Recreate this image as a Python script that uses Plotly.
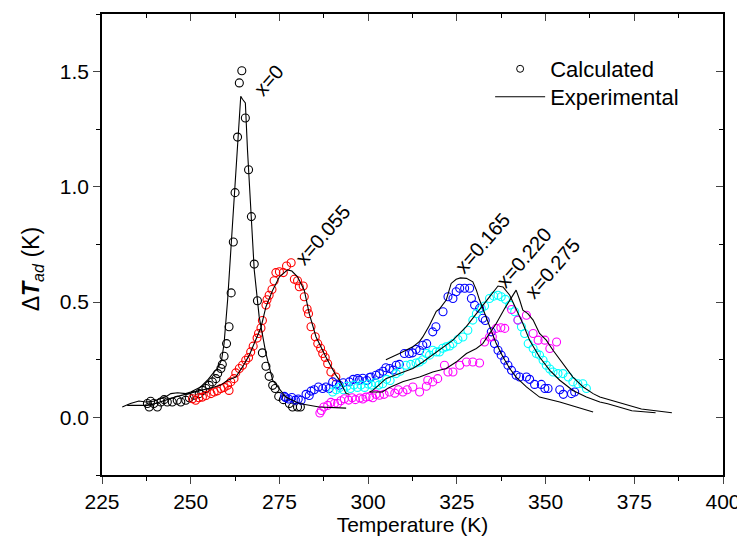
import plotly.graph_objects as go

# ---------------- data ----------------
cal0_T = [237.8, 238.3, 238.7, 239.6, 240.6, 241.6, 242.5, 243.4, 244.8, 246.2, 247.2, 248.6, 249.6,
          251.0, 252.4, 253.3, 254.3, 255.2, 256.1, 257.1, 257.6, 258.5, 258.9, 259.4, 260.1, 260.8,
          261.4, 262.0, 262.5, 263.2, 263.7, 264.4, 265.4, 266.3, 267.1, 267.9, 268.8, 270.2, 271.2,
          272.1, 273.1, 273.8, 274.8, 276.1, 277.8, 278.7, 280.1, 280.9]
cal0_v = [0.060, 0.045, 0.070, 0.060, 0.045, 0.067, 0.077, 0.067, 0.067, 0.074, 0.067, 0.074, 0.085,
          0.096, 0.103, 0.117, 0.125, 0.139, 0.154, 0.168, 0.190, 0.212, 0.230, 0.265, 0.320, 0.393,
          0.540, 0.761, 0.975, 1.216, 1.451, 1.504, 1.299, 1.074, 0.871, 0.665, 0.506, 0.280, 0.222,
          0.178, 0.139, 0.125, 0.091, 0.077, 0.060, 0.045, 0.045, 0.045]

cal055_T = [250.5, 251.4, 252.3, 253.3, 254.3, 255.7, 256.6, 257.5, 258.5, 259.4, 260.4, 260.8, 261.3,
            262.2, 262.7, 263.7, 264.6, 265.5, 266.3, 266.9, 267.6, 268.7, 269.1, 269.8, 270.2, 271.2,
            271.5, 272.1, 272.9, 273.5, 274.0, 275.0, 276.1, 277.0, 278.3, 279.2, 280.1, 280.6, 281.7,
            282.0, 282.8, 283.2, 283.9, 285.1, 285.8, 286.6, 287.2, 287.9, 288.6, 289.5, 290.9]
cal055_v = [0.081, 0.074, 0.085, 0.088, 0.095, 0.103, 0.110, 0.115, 0.125, 0.130, 0.139, 0.117, 0.154,
            0.168, 0.193, 0.212, 0.226, 0.248, 0.260, 0.284, 0.309, 0.344, 0.364, 0.388, 0.420, 0.487,
            0.510, 0.530, 0.555, 0.593, 0.628, 0.632, 0.628, 0.657, 0.671, 0.599, 0.593, 0.567, 0.570,
            0.523, 0.470, 0.450, 0.393, 0.350, 0.320, 0.300, 0.277, 0.260, 0.233, 0.197, 0.175]

cal165_T = [276.4, 276.8, 277.6, 278.5, 279.5, 280.3, 281.1, 282.5, 283.4, 283.9, 284.8, 286.0, 287.2,
            288.1, 289.0, 290.0, 291.0, 291.9, 293.0, 294.7, 295.8, 297.0, 297.5, 298.5, 299.6, 300.4,
            300.8, 302.2, 303.2, 304.2, 305.0, 306.0, 307.0, 307.9, 308.8, 310.2, 311.6, 312.5, 313.5,
            314.5, 315.4, 316.5, 318.2, 319.1, 321.1, 322.5, 323.9, 324.8, 325.8, 327.2, 328.6, 329.1,
            330.0, 331.4, 332.3, 333.0, 334.7, 335.6, 336.6, 337.5, 338.5, 339.4, 340.4, 341.7, 342.7,
            344.6, 345.5, 346.9, 348.8, 349.8, 350.7, 354.0, 355.0, 357.3, 358.2]
cal165_v = [0.091, 0.085, 0.080, 0.086, 0.075, 0.080, 0.074, 0.100, 0.095, 0.114, 0.120, 0.132, 0.125,
            0.132, 0.125, 0.154, 0.145, 0.139, 0.150, 0.154, 0.165, 0.168, 0.161, 0.170, 0.160, 0.173,
            0.175, 0.183, 0.190, 0.200, 0.215, 0.212, 0.205, 0.226, 0.230, 0.277, 0.277, 0.280, 0.295,
            0.290, 0.313, 0.320, 0.371, 0.393, 0.458, 0.523, 0.516, 0.545, 0.560, 0.560, 0.560, 0.516,
            0.487, 0.473, 0.430, 0.420, 0.371, 0.320, 0.291, 0.270, 0.248, 0.226, 0.204, 0.183, 0.175,
            0.175, 0.165, 0.143, 0.143, 0.125, 0.125, 0.120, 0.100, 0.103, 0.110]

cal220_T = [290.0, 291.0, 292.0, 293.0, 294.0, 295.0, 296.0, 297.0, 298.0, 299.0, 300.0, 301.0, 302.0,
            303.0, 304.1, 305.2, 306.2, 307.9, 309.0, 310.7, 312.0, 313.5, 314.5, 315.4, 316.4, 317.3,
            318.2, 319.2, 320.1, 321.0, 322.0, 323.0, 323.9, 325.3, 326.7, 328.1, 329.5, 330.5, 331.9,
            332.8, 334.2, 335.4, 336.6, 337.5, 338.7, 339.9, 341.3, 342.2, 343.2, 344.1, 345.1, 346.5,
            347.4, 348.3, 349.3, 350.2, 351.2, 352.1, 353.5, 354.9, 356.4, 357.7, 359.1, 360.5, 361.5]
cal220_v = [0.110, 0.120, 0.130, 0.120, 0.135, 0.125, 0.140, 0.130, 0.140, 0.130, 0.145, 0.140, 0.150,
            0.140, 0.146, 0.165, 0.160, 0.190, 0.200, 0.226, 0.230, 0.236, 0.240, 0.250, 0.277, 0.270,
            0.291, 0.284, 0.284, 0.300, 0.306, 0.310, 0.320, 0.338, 0.349, 0.378, 0.422, 0.450, 0.473,
            0.483, 0.516, 0.526, 0.530, 0.523, 0.512, 0.487, 0.458, 0.422, 0.393, 0.364, 0.320, 0.299,
            0.277, 0.270, 0.248, 0.226, 0.210, 0.197, 0.190, 0.190, 0.175, 0.154, 0.146, 0.146, 0.125]

cal275_T = [286.4, 286.8, 287.5, 288.6, 289.5, 290.5, 291.4, 292.3, 293.3, 294.5, 295.5, 296.4, 297.7,
            298.5, 299.4, 300.4, 301.3, 302.2, 303.2, 304.5, 306.0, 307.5, 308.5, 309.8, 311.0, 312.6,
            314.5, 316.4, 316.8, 318.2, 319.6, 321.5, 322.5, 323.9, 325.8, 327.7, 329.5, 331.4, 332.8,
            334.2, 335.0, 336.1, 337.4, 338.5, 340.4, 342.2, 344.6, 346.5, 347.9, 349.8, 351.2, 353.1]
cal275_v = [0.019, 0.030, 0.045, 0.052, 0.065, 0.060, 0.060, 0.072, 0.081, 0.075, 0.085, 0.077, 0.084,
            0.080, 0.088, 0.090, 0.085, 0.100, 0.096, 0.100, 0.110, 0.105, 0.120, 0.110, 0.120, 0.132,
            0.110, 0.135, 0.161, 0.154, 0.168, 0.226, 0.197, 0.197, 0.226, 0.240, 0.240, 0.236, 0.327,
            0.349, 0.350, 0.386, 0.389, 0.386, 0.468, 0.422, 0.443, 0.364, 0.335, 0.335, 0.299, 0.327]

exp0_T = [230.7, 233.0, 235.4, 237.3, 239.5, 241.5, 243.0, 244.4, 246.3, 248.6, 250.0, 252.8, 254.7,
          256.6, 257.5, 258.7, 259.4, 260.4, 261.3, 262.3, 263.2, 264.1, 264.6, 265.4, 266.0, 267.0,
          267.9, 269.3, 271.2, 273.1, 276.8, 280.6, 286.2, 293.8]
exp0_v = [0.045, 0.060, 0.071, 0.067, 0.070, 0.080, 0.090, 0.103, 0.107, 0.103, 0.110, 0.132, 0.161,
          0.197, 0.210, 0.250, 0.320, 0.509, 0.726, 0.943, 1.200, 1.393, 1.380, 1.364, 1.160, 0.870,
          0.640, 0.436, 0.277, 0.161, 0.088, 0.060, 0.045, 0.040]

exp055_T = [232.1, 237.8, 240.0, 243.0, 246.0, 249.6, 251.0, 253.0, 256.6, 258.5, 260.4, 262.7, 264.1,
            264.6, 266.5, 268.4, 269.8, 271.2, 273.1, 275.0, 277.3, 278.5, 280.1, 282.0, 283.4, 285.3,
            288.1, 290.9, 292.0, 293.8, 294.7]
exp055_v = [0.052, 0.052, 0.060, 0.075, 0.090, 0.104, 0.110, 0.120, 0.132, 0.140, 0.161, 0.175, 0.204,
            0.219, 0.270, 0.335, 0.390, 0.480, 0.552, 0.610, 0.640, 0.635, 0.610, 0.552, 0.450, 0.350,
            0.262, 0.183, 0.160, 0.103, 0.100]

exp165_T = [305.0, 306.5, 308.8, 310.5, 312.6, 314.5, 315.4, 317.3, 319.2, 320.1, 322.0, 323.4, 324.8,
            326.0, 327.7, 329.5, 330.5, 331.4, 332.8, 334.2, 336.1, 338.0, 339.9, 341.7, 344.6, 348.3,
            354.0, 358.7, 363.4]
exp165_v = [0.250, 0.262, 0.277, 0.290, 0.306, 0.330, 0.349, 0.400, 0.460, 0.470, 0.509, 0.581, 0.599,
            0.605, 0.603, 0.588, 0.552, 0.509, 0.450, 0.393, 0.320, 0.262, 0.212, 0.175, 0.132, 0.088,
            0.067, 0.045, 0.023]

exp220_T = [300.4, 301.3, 303.0, 305.0, 308.8, 312.6, 315.4, 319.2, 320.1, 323.9, 327.6, 331.4, 334.2,
            336.6, 338.0, 339.9, 341.7, 343.6, 345.5, 348.3, 351.2, 354.0, 357.7, 361.5, 365.3, 367.5,
            374.3, 381.0]
exp220_v = [0.110, 0.117, 0.140, 0.168, 0.190, 0.212, 0.240, 0.284, 0.291, 0.335, 0.393, 0.465, 0.523,
            0.570, 0.566, 0.530, 0.473, 0.407, 0.335, 0.262, 0.204, 0.161, 0.117, 0.088, 0.067, 0.059,
            0.029, 0.020]

exp275_T = [300.4, 304.0, 306.0, 309.9, 314.5, 318.2, 322.0, 324.8, 327.7, 330.5, 332.3, 334.2, 336.1,
            338.5, 340.4, 341.7, 342.7, 343.6, 345.0, 346.5, 348.3, 350.2, 352.1, 354.9, 357.7, 360.6,
            363.4, 365.3, 370.2, 377.0, 385.6]
exp275_v = [0.110, 0.110, 0.130, 0.156, 0.175, 0.197, 0.212, 0.240, 0.277, 0.299, 0.320, 0.364, 0.407,
            0.473, 0.523, 0.552, 0.509, 0.465, 0.450, 0.422, 0.364, 0.335, 0.291, 0.233, 0.175, 0.132,
            0.103, 0.088, 0.066, 0.036, 0.020]

labels = ["x=0", "x=0.055", "x=0.165", "x=0.220", "x=0.275"]
label_T = [272.0, 287.2, 332.3, 343.8, 352.1]
label_v = [1.465, 0.791, 0.755, 0.693, 0.646]

x_ticks = [225, 250, 275, 300, 325, 350, 375, 400]
y_ticks = [0.0, 0.5, 1.0, 1.5]
y_ticktext = ["0.0", "0.5", "1.0", "1.5"]

# ---------------- figure ----------------
FONT = "Liberation Sans, Arial, Helvetica, sans-serif"
fig = go.Figure()

calc_sets = [(cal0_T, cal0_v, "black"), (cal055_T, cal055_v, "red"), (cal165_T, cal165_v, "blue"),
             (cal220_T, cal220_v, "cyan"), (cal275_T, cal275_v, "magenta")]
for T, v, c in calc_sets:
    fig.add_trace(go.Scatter(x=T, y=v, mode="markers", showlegend=False, hoverinfo="skip",
                             marker=dict(symbol="circle-open", size=8, color=c, line=dict(width=1.1, color=c))))

for T, v in [(exp0_T, exp0_v), (exp055_T, exp055_v), (exp165_T, exp165_v),
             (exp220_T, exp220_v), (exp275_T, exp275_v)]:
    fig.add_trace(go.Scatter(x=T, y=v, mode="lines", showlegend=False, hoverinfo="skip",
                             line=dict(color="black", width=1.1)))

# legend entries (each in its own legend box for exact placement)
fig.add_trace(go.Scatter(x=[None], y=[None], mode="markers", name="Calculated", legend="legend",
                         marker=dict(symbol="circle-open", size=7, color="black", line=dict(width=1, color="black"))))
fig.add_trace(go.Scatter(x=[None], y=[None], mode="lines", name="Experimental", legend="legend2",
                         line=dict(color="black", width=1.1)))
# dummy for mirrored inner ticks
fig.add_trace(go.Scatter(x=[None], y=[None], xaxis="x2", yaxis="y2", showlegend=False, hoverinfo="skip"))

for lab, T, v in zip(labels, label_T, label_v):
    fig.add_annotation(x=T, y=v, text=lab, showarrow=False, textangle=-49,
                       font=dict(family=FONT, size=20, color="black"))

# y-axis title (placed as annotation to match its off-centre position)
fig.add_annotation(xref="paper", yref="paper", x=-0.137, y=0.447, showarrow=False, textangle=-90,
                   text="Δ<b><i>T</i></b><sub><i>ad</i></sub> (K)",
                   font=dict(family=FONT, size=23, color="black"))

axis_common = dict(showgrid=False, zeroline=False, linecolor="black", linewidth=1.5, automargin=False)
legend_common = dict(xanchor="left", yanchor="middle", bgcolor="rgba(0,0,0,0)",
                     font=dict(size=22), itemwidth=50)
# The page body has an 8px margin, so the figure is sized to fit the 745x541 window.
fig.update_layout(
    width=737, height=533,
    margin=dict(l=94, r=22, t=6, b=66, autoexpand=False),
    paper_bgcolor="white", plot_bgcolor="white",
    font=dict(family=FONT, size=20, color="black"),
    showlegend=True,
    legend=dict(x=0.625, y=0.8807, **legend_common),
    legend2=dict(x=0.625, y=0.8200, **legend_common),
    xaxis=dict(range=[225, 400], tickvals=x_ticks, ticks="outside", ticklen=7, tickwidth=1.3,
               mirror=True, showline=True, tickfont=dict(size=21),
               minor=dict(dtick=12.5, tick0=225, ticks="outside", ticklen=4, tickwidth=1.2, tickcolor="black"),
               title=dict(text="Temperature (K)", font=dict(size=21), standoff=5), **axis_common),
    yaxis=dict(range=[-0.25, 1.75], tickvals=y_ticks, ticktext=y_ticktext, tickfont=dict(size=21),
               ticks="outside", ticklen=7, tickwidth=1.3, mirror=True, showline=True,
               minor=dict(dtick=0.25, tick0=0, ticks="outside", ticklen=4, tickwidth=1.2, tickcolor="black"),
               **axis_common),
    xaxis2=dict(range=[225, 400], overlaying="x", side="top", tickvals=x_ticks, ticks="inside",
                ticklen=7, tickwidth=1.3, showticklabels=False, showline=False, showgrid=False,
                zeroline=False, automargin=False,
                minor=dict(dtick=12.5, tick0=225, ticks="inside", ticklen=4, tickwidth=1.2, tickcolor="black")),
    yaxis2=dict(range=[-0.25, 1.75], overlaying="y", side="right", tickvals=y_ticks, ticks="inside",
                ticklen=7, tickwidth=1.3, showticklabels=False, showline=False, showgrid=False,
                zeroline=False, automargin=False,
                minor=dict(dtick=0.25, tick0=0, ticks="inside", ticklen=4, tickwidth=1.2, tickcolor="black")),
)

fig.write_html("out.html")
